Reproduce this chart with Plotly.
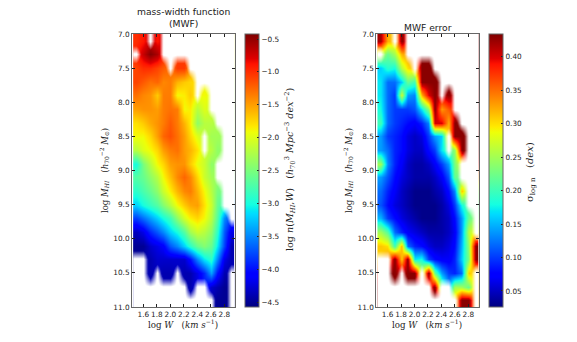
import numpy as np
import plotly.graph_objects as go

n = None
log_w = [1.5, 1.6, 1.7, 1.8, 1.9, 2.0, 2.1, 2.2, 2.3, 2.4, 2.5, 2.6, 2.7, 2.8, 2.9]
log_m = [7.1, 7.3, 7.5, 7.7, 7.9, 8.1, 8.3, 8.5, 8.7, 8.9,
         9.1, 9.3, 9.5, 9.7, 9.9, 10.1, 10.3, 10.5, 10.7, 10.9]

mwf = [
    [-1.0, -0.9, n, -0.9, n, n, n, n, n, n, n, n, n, n, n],
    [n, -0.7, -0.45, -0.6, n, n, n, n, n, n, n, n, n, n, n],
    [-1.1, -1.0, -1.0, -1.1, -1.2, n, -1.05, -1.05, n, n, n, n, n, n, n],
    [-1.1, -1.2, -1.3, -1.25, -1.4, -1.35, -1.6, -1.7, -1.75, n, n, n, n, n, n],
    [-1.3, -1.4, -1.45, -1.7, -1.35, -1.35, -1.9, -1.85, -1.7, n, -1.9, n, n, n, n],
    [-1.5, -1.45, -1.45, -1.5, -1.35, -1.3, -1.35, -1.9, -1.85, -2.2, -2.0, n, n, n, n],
    [-1.8, -1.7, -1.55, -1.45, -1.35, -1.2, -1.35, -1.6, -1.85, -2.4, -2.2, -2.2, n, n, n],
    [-1.9, -1.9, -1.75, -1.5, -1.25, -1.15, -1.3, -1.5, -1.75, -2.0, n, -2.3, -2.3, n, n],
    [-2.2, -2.0, -1.9, -1.75, -1.5, -1.35, -1.3, -1.5, -1.6, -1.8, n, -2.2, -2.4, n, n],
    [-3.0, -2.5, -2.2, -1.9, -1.75, -1.5, -1.45, -1.45, -1.7, -1.95, -2.1, -2.4, n, n, n],
    [-2.7, -2.6, -2.4, -2.2, -1.9, -1.65, -1.4, -1.25, -1.4, -1.75, -2.1, -2.3, n, n, n],
    [-2.9, -2.75, -2.6, -2.4, -2.1, -1.85, -1.6, -1.4, -1.35, -1.6, -1.9, -2.2, -2.5, n, n],
    [-3.2, -3.0, -2.85, -2.7, -2.45, -2.2, -1.9, -1.7, -1.55, -1.5, -1.8, -2.1, -2.6, n, n],
    [-3.8, -3.6, -3.4, -3.2, -3.0, -2.8, -2.4, -2.05, -1.85, -1.75, -1.9, -2.2, -2.7, -3.5, n],
    [-4.35, -4.2, -3.9, -3.7, -3.5, -3.2, -3.0, -2.7, -2.3, -2.1, -2.2, -2.4, -2.9, -3.7, -4.2],
    [-4.5, -4.5, -4.3, -4.2, -4.1, -3.7, -3.5, -3.2, -2.9, -2.6, -2.45, -2.6, -3.1, -3.8, -4.4],
    [n, n, -4.4, -4.3, -4.3, -4.3, -4.3, -4.3, -4.0, -3.5, -3.1, -2.9, -3.5, -4.2, -4.4],
    [n, n, -4.4, n, -4.4, -4.4, n, -4.4, -4.4, -4.2, -3.9, -3.4, -4.0, -4.4, n],
    [n, n, n, n, n, n, n, n, -4.4, n, n, -4.3, -4.4, -4.5, n],
    [n, n, n, n, n, n, n, n, n, n, n, n, -4.5, -4.5, n],
]

mwf_err = [
    [0.42, 0.32, n, 0.43, n, n, n, n, n, n, n, n, n, n, n],
    [n, 0.22, 0.25, 0.32, n, n, n, n, n, n, n, n, n, n, n],
    [0.16, 0.19, 0.18, 0.26, 0.30, n, 0.43, 0.43, n, n, n, n, n, n, n],
    [0.17, 0.12, 0.12, 0.16, 0.22, 0.20, 0.43, 0.43, 0.43, n, n, n, n, n, n],
    [0.17, 0.12, 0.10, 0.27, 0.14, 0.13, 0.32, 0.40, 0.43, n, 0.43, n, n, n, n],
    [0.18, 0.12, 0.10, 0.10, 0.10, 0.11, 0.17, 0.24, 0.43, 0.33, 0.36, n, n, n, n],
    [0.20, 0.12, 0.10, 0.09, 0.08, 0.07, 0.09, 0.13, 0.40, 0.40, 0.32, 0.43, n, n, n],
    [0.14, 0.10, 0.09, 0.08, 0.06, 0.05, 0.06, 0.10, 0.14, 0.16, n, 0.43, 0.43, n, n],
    [0.14, 0.12, 0.09, 0.08, 0.06, 0.05, 0.05, 0.08, 0.10, 0.17, n, 0.24, 0.43, n, n],
    [0.25, 0.13, 0.09, 0.07, 0.05, 0.04, 0.04, 0.05, 0.07, 0.10, 0.14, 0.23, n, n, n],
    [0.14, 0.11, 0.08, 0.06, 0.05, 0.04, 0.04, 0.04, 0.05, 0.07, 0.11, 0.22, n, n, n],
    [0.12, 0.09, 0.07, 0.05, 0.04, 0.03, 0.03, 0.03, 0.04, 0.05, 0.08, 0.13, 0.31, n, n],
    [0.11, 0.08, 0.06, 0.05, 0.04, 0.03, 0.03, 0.03, 0.03, 0.04, 0.06, 0.10, 0.18, n, n],
    [0.15, 0.10, 0.08, 0.06, 0.05, 0.04, 0.03, 0.03, 0.03, 0.04, 0.05, 0.08, 0.14, 0.22, n],
    [0.25, 0.21, 0.12, 0.09, 0.07, 0.06, 0.05, 0.04, 0.04, 0.04, 0.05, 0.07, 0.14, 0.26, n],
    [0.31, 0.30, 0.20, 0.32, 0.12, 0.09, 0.08, 0.06, 0.05, 0.05, 0.06, 0.08, 0.15, 0.24, 0.43],
    [n, n, 0.43, 0.31, 0.43, 0.17, 0.18, 0.10, 0.08, 0.07, 0.07, 0.09, 0.16, 0.23, 0.43],
    [n, n, 0.43, n, 0.43, 0.43, n, 0.43, 0.22, 0.14, 0.10, 0.09, 0.12, 0.31, n],
    [n, n, n, n, n, n, n, n, 0.43, n, n, 0.25, 0.25, 0.22, n],
    [n, n, n, n, n, n, n, n, n, n, n, n, 0.43, 0.43, n],
]

mass_ticks = [7.0, 7.5, 8.0, 8.5, 9.0, 9.5, 10.0, 10.5, 11.0]
width_ticks = [1.6, 1.8, 2.0, 2.2, 2.4, 2.6, 2.8]
mwf_ticks = [-0.5, -1.0, -1.5, -2.0, -2.5, -3.0, -3.5, -4.0, -4.5]
err_ticks = [0.40, 0.35, 0.30, 0.25, 0.20, 0.15, 0.10, 0.05]

# matplotlib jet
jet = [
    [0.0, "rgb(0,0,127)"], [0.11, "rgb(0,0,255)"], [0.125, "rgb(0,0,255)"],
    [0.34, "rgb(0,219,255)"], [0.35, "rgb(0,229,247)"], [0.375, "rgb(20,255,226)"],
    [0.64, "rgb(238,255,8)"], [0.66, "rgb(255,234,0)"], [0.89, "rgb(255,18,0)"],
    [0.91, "rgb(223,0,0)"], [1.0, "rgb(127,0,0)"],
]
# white veil over the empty cells, so the edges fade out like a masked imshow
veil = [[0, "rgba(255,255,255,0)"], [0.35, "rgba(255,255,255,0)"],
        [0.95, "rgba(255,255,255,1)"], [1, "rgba(255,255,255,1)"]]

W, H = 577, 342
FONT = "DejaVu Sans"
SERIF = "DejaVu Serif"
INK = "#222222"
FRAME = "#666666"
TICK = 7.3


def px(x):
    return x / W


def py(y):
    return 1 - y / H


def under_veil(rows):
    # heatmap smoothing breaks up at gaps, so empty cells borrow from their
    # neighbours for drawing only; the veil hides them again
    z = np.array(rows, dtype=float)
    while np.isnan(z).any():
        out = z.copy()
        for i, j in zip(*np.where(np.isnan(z))):
            near = z[max(i - 1, 0):i + 2, max(j - 1, 0):j + 2]
            if (~np.isnan(near)).any():
                out[i, j] = np.nanmean(near)
        z = out
    return z


def colorbar(left, ticks, labels):
    return dict(
        x=px(left), xanchor="left", xref="paper", y=py(170.5), yanchor="middle",
        len=273 / H, thickness=14, thicknessmode="pixels", tickvals=ticks,
        ticktext=labels, ticks="inside", ticklen=2, tickcolor=INK,
        outlinecolor=FRAME, outlinewidth=1, xpad=0, ypad=0,
        tickfont=dict(family=FONT, size=TICK, color=INK),
    )


fig = go.Figure()
fig.add_trace(go.Heatmap(
    x=log_w, y=log_m, z=under_veil(mwf), xaxis="x", yaxis="y", zsmooth="best",
    colorscale=jet, zmin=-4.576, zmax=-0.424,
    colorbar=colorbar(244.7, mwf_ticks, ["\u2212%.1f" % abs(t) for t in mwf_ticks]),
))
fig.add_trace(go.Heatmap(
    x=log_w, y=log_m, z=np.isnan(np.array(mwf, dtype=float)).astype(float),
    xaxis="x", yaxis="y", zsmooth="best", colorscale=veil, zmin=0, zmax=1,
    showscale=False, hoverinfo="skip",
))
fig.add_trace(go.Heatmap(
    x=log_w, y=log_m, z=under_veil(mwf_err), xaxis="x2", yaxis="y2", zsmooth="best",
    colorscale=jet, zmin=0.026, zmax=0.434,
    colorbar=colorbar(488.7, err_ticks, ["%.2f" % t for t in err_ticks]),
))
fig.add_trace(go.Heatmap(
    x=log_w, y=log_m, z=np.isnan(np.array(mwf_err, dtype=float)).astype(float),
    xaxis="x2", yaxis="y2", zsmooth="best", colorscale=veil, zmin=0, zmax=1,
    showscale=False, hoverinfo="skip",
))

x_common = dict(range=[1.433, 2.954], tickvals=width_ticks, ticktext=["%.1f" % t for t in width_ticks],
                tickangle=0, ticks="inside", ticklen=3, tickcolor=INK, mirror="ticks", showline=True,
                linecolor=FRAME, linewidth=1, showgrid=False, zeroline=False,
                tickfont=dict(family=FONT, size=TICK, color=INK))
y_common = dict(range=[11, 7], tickvals=mass_ticks, ticktext=["%.1f" % t for t in mass_ticks],
                ticks="inside", ticklen=3, tickcolor=INK, mirror="ticks", showline=True,
                linecolor=FRAME, linewidth=1, showgrid=False, zeroline=False,
                tickfont=dict(family=FONT, size=TICK, color=INK))

y_label = "log <i>M<sub>HI</sub></i>   (<i>h</i><sub>70</sub><sup>\u22122</sup> <i>M</i><sub>\u2299</sub>)"
x_label = "log <i>W</i>   (<i>km s</i><sup>\u22121</sup>)"

notes = [
    (183.5, 18, "mass-width function<br>(MWF)", 0, FONT, 9.2),
    (427.5, 27, "MWF error", 0, FONT, 9.2),
    (183, 324, x_label, 0, SERIF, 8.7),
    (427, 324, x_label, 0, SERIF, 8.7),
    (104, 171, y_label, -90, SERIF, 8.5),
    (348, 171, y_label, -90, SERIF, 8.5),
    (290, 170, "log <i>n</i>(<i>M<sub>HI</sub></i>,<i>W</i>)   (<i>h</i><sub>70</sub><sup>3</sup> <i>Mpc</i><sup>\u22123</sup> <i>dex</i><sup>\u22122</sup>)", -90, SERIF, 9.6),
    (530, 172, "\u03c3<sub>log n</sub>   (<i>dex</i>)", -90, SERIF, 10),
]
annotations = [
    dict(x=px(x), y=py(y), xref="paper", yref="paper", text=t, textangle=a, showarrow=False,
         xanchor="center", yanchor="middle", font=dict(family=f, size=s, color=INK))
    for x, y, t, a, f, s in notes
]

fig.update_layout(
    width=W, height=H, autosize=False,
    margin=dict(l=0, r=0, t=0, b=0, autoexpand=False),
    paper_bgcolor="white", plot_bgcolor="white", showlegend=False,
    xaxis=dict(domain=[px(132), px(234.7)], anchor="y", **x_common),
    yaxis=dict(domain=[py(307), py(34)], anchor="x", **y_common),
    xaxis2=dict(domain=[px(376.3), px(478.7)], anchor="y2", **x_common),
    yaxis2=dict(domain=[py(307), py(34)], anchor="x2", **y_common),
    annotations=annotations,
)

fig.write_html("out.html", config=dict(displayModeBar=False),
               post_script="document.body.style.margin='0';")
